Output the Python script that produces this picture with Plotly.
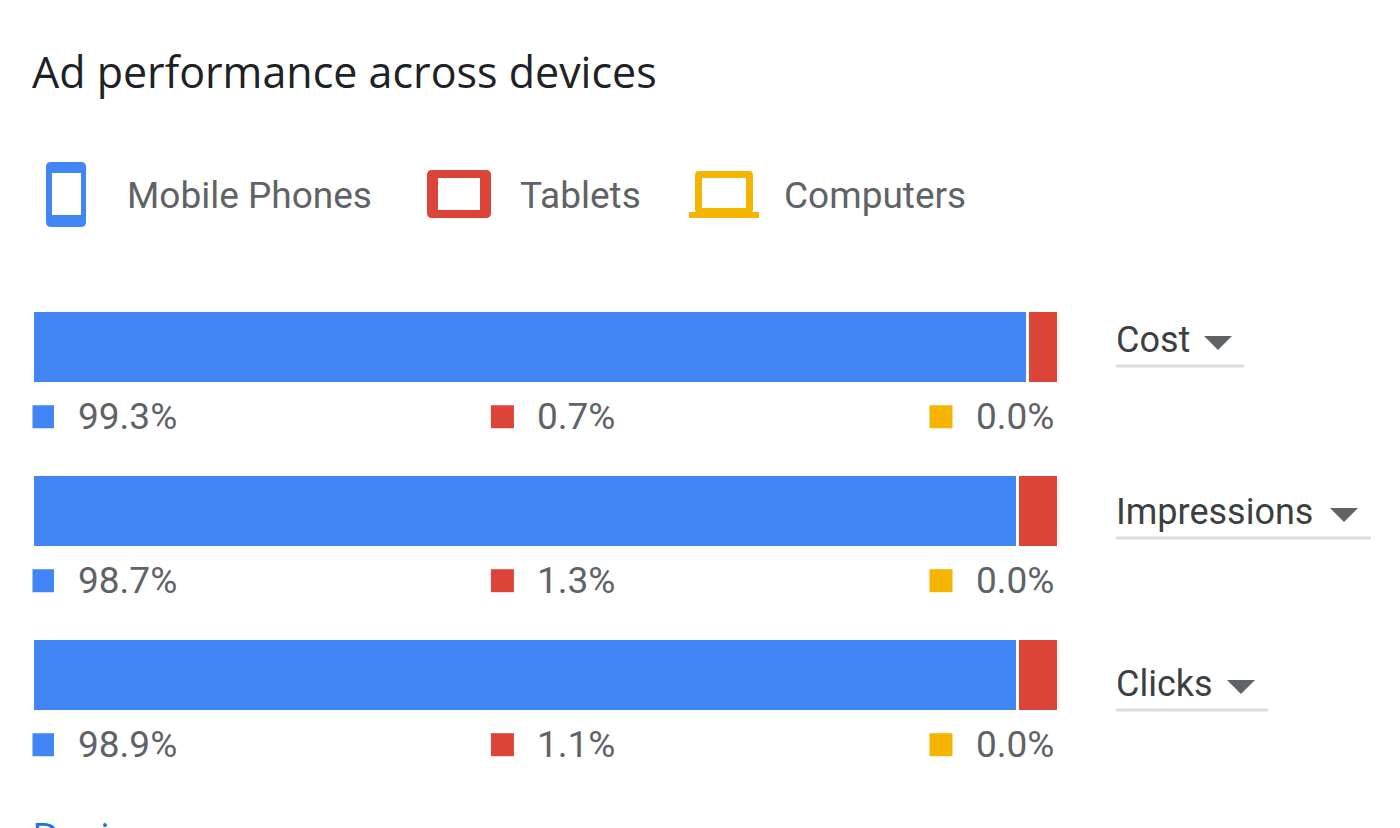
import plotly.graph_objects as go

# data
metrics = ["Cost", "Impressions", "Clicks"]
devices = ["Mobile Phones", "Tablets", "Computers"]
mobile_pct = [99.3, 98.7, 98.9]
tablet_pct = [0.7, 1.3, 1.1]
computer_pct = [0.0, 0.0, 0.0]
# segment lengths as drawn (the UI pads small segments)
mobile_bar = [97.0, 96.0, 96.0]
tablet_bar = [3.0, 4.0, 4.0]
computer_bar = [0.0, 0.0, 0.0]

BLUE = "#4285f4"
RED = "#db4437"
YELLOW = "#f4b400"
GREY = "#5f6368"
W, H = 1400, 828
OFF = 8  # page body margin


def px(x):
    return (x - OFF) / W


def py(y):
    return 1 - (y - OFF) / H


def rrect(x0, y0, x1, y1, r):
    # rounded rectangle path in paper coords, input in pixels
    rx, ry = r / W, r / H
    a, b, c, d = px(x0), py(y0), px(x1), py(y1)
    return (f"M{a+rx},{b} L{c-rx},{b} Q{c},{b} {c},{b-ry} L{c},{d+ry} "
            f"Q{c},{d} {c-rx},{d} L{a+rx},{d} Q{a},{d} {a},{d+ry} "
            f"L{a},{b-ry} Q{a},{b} {a+rx},{b} Z")


def rect(x0, y0, x1, y1, col):
    return dict(type="rect", xref="paper", yref="paper", x0=px(x0), x1=px(x1),
                y0=py(y1), y1=py(y0), fillcolor=col, line_width=0)


def path(p, col):
    return dict(type="path", xref="paper", yref="paper", path=p, fillcolor=col, line_width=0)


rows = list(range(len(metrics)))
fig = go.Figure()

for vals, col in [(mobile_bar, BLUE), (tablet_bar, RED), (computer_bar, YELLOW)]:
    fig.add_trace(go.Bar(
        x=vals, y=rows, orientation="h", width=0.445,
        marker=dict(color=col, line=dict(color="white", width=3)),
        hoverinfo="skip",
    ))

# little colour keys under each bar
key_x = [0.975, 45.8, 88.55]
text_x = [4.2, 49.0, 91.8]
for i, (pcts, col) in enumerate([(mobile_pct, BLUE), (tablet_pct, RED), (computer_pct, YELLOW)]):
    fig.add_trace(go.Scatter(
        x=[key_x[i]] * len(rows), y=[r + 0.425 for r in rows], mode="markers",
        marker=dict(symbol="square", size=23, color=col), hoverinfo="skip",
    ))
    for r, v in zip(rows, pcts):
        fig.add_annotation(x=text_x[i], y=r + 0.425, xref="x", yref="y",
                           text=f"{v:.1f}%", showarrow=False, xanchor="left",
                           yanchor="middle", font=dict(size=37, color=GREY))

shapes = []
# legend icons
shapes.append(path(rrect(46, 162, 86, 227, 5), BLUE))
shapes.append(rect(52, 173, 81, 215, "white"))
shapes.append(path(rrect(427, 170, 491, 218, 5), RED))
shapes.append(rect(438, 178, 480, 210, "white"))
shapes.append(path(rrect(695, 171, 753, 213, 4), YELLOW))
shapes.append(rect(702, 178, 746, 208, "white"))
shapes.append(rect(689, 212, 759, 218, YELLOW))

legend_x = [125, 518, 782]
for name, lx in zip(devices, legend_x):
    fig.add_annotation(x=px(lx), y=py(195), xref="paper", yref="paper", text=name,
                       showarrow=False, xanchor="left", yanchor="middle",
                       font=dict(size=37, color=GREY))

# metric dropdowns on the right
drop_y = [340, 512, 684]
line_end = [1244, 1371, 1268]
tri_x = [1204, 1330, 1227]
for m, yy, le, tx in zip(metrics, drop_y, line_end, tri_x):
    fig.add_annotation(x=px(1114), y=py(yy), xref="paper", yref="paper", text=m,
                       showarrow=False, xanchor="left", yanchor="middle",
                       font=dict(size=36, color="#3c4043"))
    shapes.append(path(f"M{px(tx)},{py(yy-4)} L{px(tx+28)},{py(yy-4)} L{px(tx+14)},{py(yy+10)} Z", GREY))
    shapes.append(dict(type="line", xref="paper", yref="paper",
                       x0=px(1116), x1=px(le), y0=py(yy + 26), y1=py(yy + 26),
                       line=dict(color="#dadce0", width=3)))

fig.add_annotation(x=px(30), y=py(71), xref="paper", yref="paper",
                   text="Ad performance across devices", showarrow=False,
                   xanchor="left", yanchor="middle",
                   font=dict(size=43, color="#202124", family="Open Sans", weight=500))
fig.add_annotation(x=px(30), y=py(836), xref="paper", yref="paper", text="Devices",
                   showarrow=False, xanchor="left", yanchor="middle",
                   font=dict(size=38, color="#1a73e8", family="Open Sans", weight=500))

fig.update_layout(
    width=W, height=H, margin=dict(l=0, r=0, t=0, b=0),
    barmode="stack", showlegend=False, shapes=shapes,
    plot_bgcolor="white", paper_bgcolor="white",
    font=dict(family="Roboto"),
    xaxis=dict(domain=[px(32.5), px(1058.5)], range=[0, 100], visible=False, fixedrange=True),
    yaxis=dict(domain=[py(757), py(265)], range=[2.5, -0.5], visible=False, fixedrange=True),
)

fig.write_html("out.html")
